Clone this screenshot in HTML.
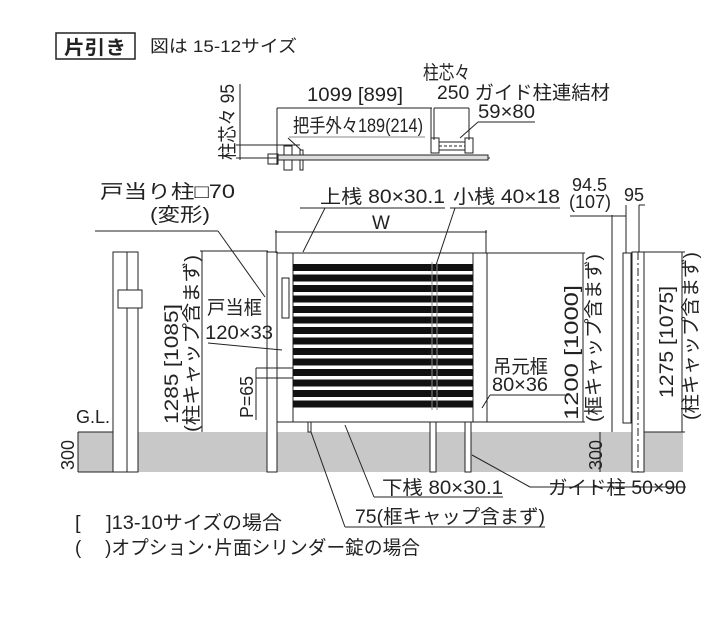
<!DOCTYPE html>
<html><head><meta charset="utf-8"><style>
body{margin:0;background:#fff}
svg{display:block;font-family:"Liberation Sans","Noto Sans CJK JP",sans-serif}
text{fill:#222}
</style></head><body>
<svg width="720" height="617" viewBox="0 0 720 617" xmlns="http://www.w3.org/2000/svg">
<!-- header -->
<rect x="56" y="33" width="79" height="26" fill="none" stroke="#222" stroke-width="1.5"/>
<text x="64" y="54" font-size="19" font-weight="bold" textLength="62" lengthAdjust="spacingAndGlyphs">片引き</text>
<text x="150" y="52" font-size="17" textLength="147" lengthAdjust="spacingAndGlyphs">図は 15-12サイズ</text>

<!-- plan view -->
<g stroke="#222" stroke-width="1" fill="none">
<line x1="240" y1="84" x2="240" y2="160"/>
<line x1="236" y1="145" x2="300" y2="145"/>
<line x1="236" y1="158" x2="490" y2="158"/>
<line x1="277" y1="108" x2="277" y2="165"/>
<line x1="277" y1="108" x2="432" y2="108"/>
<line x1="431" y1="108" x2="431" y2="140"/>
<line x1="434" y1="108" x2="469" y2="108"/>
<line x1="434" y1="108" x2="434" y2="140"/>
<line x1="469" y1="108" x2="469" y2="140"/>
<line x1="289" y1="137" x2="425" y2="137" stroke="#888"/>
<line x1="288" y1="138" x2="301" y2="150"/>
<rect x="268" y="154" width="10" height="10"/>
<rect x="284" y="146" width="8" height="24"/>
<rect x="300" y="150" width="3" height="20"/>
<rect x="278" y="155" width="210" height="5" fill="#ddd"/>
<rect x="431" y="138" width="8" height="15"/>
<rect x="465" y="138" width="8" height="15"/>
<rect x="439" y="142" width="26" height="8"/>
<line x1="439" y1="146" x2="465" y2="146" stroke-dasharray="3,2"/>
<line x1="460" y1="138" x2="478" y2="122"/>
<line x1="478" y1="122" x2="535" y2="122"/>
</g>
<text x="234" y="160" font-size="19" transform="rotate(-90 234 160)" textLength="76" lengthAdjust="spacingAndGlyphs">柱芯々 95</text>
<text x="307" y="101" font-size="19" textLength="96" lengthAdjust="spacingAndGlyphs">1099 [899]</text>
<text x="423" y="79" font-size="19" textLength="47" lengthAdjust="spacingAndGlyphs">柱芯々</text>
<text x="437" y="99" font-size="19" textLength="173" lengthAdjust="spacingAndGlyphs">250 ガイド柱連結材</text>
<text x="478" y="118" font-size="19" textLength="57" lengthAdjust="spacingAndGlyphs">59×80</text>
<text x="293" y="132" font-size="19" textLength="130" lengthAdjust="spacingAndGlyphs">把手外々189(214)</text>

<!-- ground -->
<rect x="78" y="432" width="605" height="40" fill="#c8c8c8"/>
<g stroke="#222" stroke-width="1">
<rect x="113" y="252" width="25" height="220" fill="#fff"/>
<line x1="127" y1="252" x2="127" y2="472"/>
<rect x="118" y="290" width="24" height="18" fill="#fff"/>
<line x1="78" y1="432" x2="113" y2="432"/>
<line x1="78" y1="432" x2="78" y2="472"/>
<line x1="78" y1="472" x2="113" y2="472"/>
<line x1="200" y1="251" x2="268" y2="251"/>
<line x1="202" y1="251" x2="202" y2="432"/>
<rect x="267" y="252" width="10" height="220" fill="#fff"/>
<rect x="277" y="253" width="210" height="169" fill="#fff"/>
<rect x="277" y="253" width="16" height="169" fill="#fff"/>
<rect x="473" y="253" width="14" height="169" fill="#fff"/>
<rect x="282" y="278" width="7" height="40" fill="#fff"/>
<line x1="275" y1="232" x2="487" y2="232"/>
<line x1="276" y1="230" x2="276" y2="253"/>
<line x1="486" y1="230" x2="486" y2="253"/>
<rect x="308" y="422" width="3" height="10" fill="#fff"/>
<rect x="430" y="422" width="6" height="50" fill="#fff"/>
<rect x="465" y="422" width="6" height="50" fill="#fff"/>
<line x1="487" y1="253" x2="585" y2="253"/>
<line x1="487" y1="422" x2="585" y2="422"/>
<line x1="583" y1="253" x2="583" y2="422"/>
<line x1="256" y1="368" x2="293" y2="368"/>
<line x1="256" y1="378" x2="293" y2="378"/>
<line x1="256" y1="368" x2="256" y2="420"/>
</g>
<g fill="#111">
<rect x="293" y="264" width="180" height="7"/><rect x="293" y="274.5" width="180" height="7"/>
<rect x="293" y="285" width="180" height="7"/><rect x="293" y="295.5" width="180" height="7"/>
<rect x="293" y="306" width="180" height="7"/><rect x="293" y="316.5" width="180" height="7"/>
<rect x="293" y="327" width="180" height="7"/><rect x="293" y="337.5" width="180" height="7"/>
<rect x="293" y="348" width="180" height="7"/><rect x="293" y="358.5" width="180" height="7"/>
<rect x="293" y="369" width="180" height="7"/><rect x="293" y="379.5" width="180" height="7"/>
<rect x="293" y="390" width="180" height="7"/><rect x="293" y="400.5" width="180" height="7"/>
</g>
<line x1="432" y1="262" x2="432" y2="410" stroke="#888"/>
<line x1="437" y1="262" x2="437" y2="410" stroke="#888"/>

<g stroke="#222" stroke-width="1" fill="#fff">
<rect x="632" y="252" width="12" height="220"/>
<rect x="623" y="253" width="8" height="170"/>
<line x1="638" y1="252" x2="638" y2="472" stroke-dasharray="8,3,2,3"/>
<line x1="644" y1="252" x2="685" y2="252"/>
<line x1="644" y1="432" x2="685" y2="432"/>
<line x1="682" y1="252" x2="682" y2="432"/>
<line x1="600" y1="432" x2="600" y2="472"/>
<line x1="612" y1="215" x2="612" y2="432"/>
<line x1="570" y1="216" x2="626" y2="216"/>
<line x1="626" y1="205" x2="626" y2="253"/>
<line x1="639" y1="205" x2="639" y2="252"/>
<line x1="639" y1="205" x2="645" y2="205"/>
</g>

<g stroke="#222" stroke-width="1" fill="none">
<line x1="95" y1="231" x2="218" y2="231"/><line x1="218" y1="231" x2="265" y2="297"/>
<line x1="300" y1="208" x2="445" y2="208"/><line x1="325" y1="208" x2="303" y2="252"/>
<line x1="450" y1="208" x2="560" y2="208"/><line x1="455" y1="208" x2="436" y2="265"/>
<line x1="208" y1="343" x2="282" y2="350"/>
<line x1="490" y1="395" x2="565" y2="395"/><line x1="490" y1="395" x2="482" y2="408"/>
<line x1="345" y1="425" x2="374" y2="497"/><line x1="374" y1="497" x2="503" y2="497"/>
<line x1="311" y1="432" x2="345" y2="527"/><line x1="345" y1="527" x2="545" y2="527"/>
<line x1="472" y1="455" x2="530" y2="487"/><line x1="530" y1="487" x2="686" y2="487"/>
</g>

<text x="100" y="198" font-size="19" textLength="135" lengthAdjust="spacingAndGlyphs">戸当り柱□70</text>
<text x="150" y="221" font-size="19" textLength="60" lengthAdjust="spacingAndGlyphs">(変形)</text>
<text x="320" y="203" font-size="19" textLength="125" lengthAdjust="spacingAndGlyphs">上桟 80×30.1</text>
<text x="453" y="203" font-size="19" textLength="107" lengthAdjust="spacingAndGlyphs">小桟 40×18</text>
<text x="372" y="229" font-size="19">W</text>
<text x="207" y="314" font-size="19" textLength="55" lengthAdjust="spacingAndGlyphs">戸当框</text>
<text x="205" y="339" font-size="19" textLength="68" lengthAdjust="spacingAndGlyphs">120×33</text>
<text x="253" y="418" font-size="18" transform="rotate(-90 253 418)" textLength="42" lengthAdjust="spacingAndGlyphs">P=65</text>
<text x="493" y="373" font-size="19" textLength="55" lengthAdjust="spacingAndGlyphs">吊元框</text>
<text x="492" y="391" font-size="19" textLength="56" lengthAdjust="spacingAndGlyphs">80×36</text>
<text x="76" y="423" font-size="18">G.L.</text>
<text x="74" y="470" font-size="18" transform="rotate(-90 74 470)">300</text>
<text x="602" y="470" font-size="18" transform="rotate(-90 602 470)">300</text>
<text x="178" y="424" font-size="19" transform="rotate(-90 178 424)" textLength="120" lengthAdjust="spacingAndGlyphs">1285 [1085]</text>
<text x="198" y="432" font-size="19" transform="rotate(-90 198 432)" textLength="177" lengthAdjust="spacingAndGlyphs">(柱キャップ含まず)</text>
<text x="578" y="420" font-size="19" transform="rotate(-90 578 420)" textLength="135" lengthAdjust="spacingAndGlyphs">1200 [1000]</text>
<text x="600" y="422" font-size="19" transform="rotate(-90 600 422)" textLength="168" lengthAdjust="spacingAndGlyphs">(框キャップ含まず)</text>
<text x="673" y="398" font-size="19" transform="rotate(-90 673 398)" textLength="112" lengthAdjust="spacingAndGlyphs">1275 [1075]</text>
<text x="697" y="420" font-size="19" transform="rotate(-90 697 420)" textLength="168" lengthAdjust="spacingAndGlyphs">(柱キャップ含まず)</text>
<text x="572" y="191" font-size="18">94.5</text>
<text x="569" y="208" font-size="18">(107)</text>
<text x="624" y="201" font-size="18">95</text>
<text x="382" y="494" font-size="19" textLength="121" lengthAdjust="spacingAndGlyphs">下桟 80×30.1</text>
<text x="548" y="494" font-size="19" textLength="138" lengthAdjust="spacingAndGlyphs">ガイド柱 50×90</text>
<text x="355" y="523" font-size="19" textLength="190" lengthAdjust="spacingAndGlyphs">75(框キャップ含まず)</text>
<text x="75" y="529" font-size="19" textLength="207" lengthAdjust="spacingAndGlyphs">[　 ]13-10サイズの場合</text>
<text x="75" y="554" font-size="19" textLength="345" lengthAdjust="spacingAndGlyphs">(　 )オプション･片面シリンダー錠の場合</text>
</svg>
</body></html>
